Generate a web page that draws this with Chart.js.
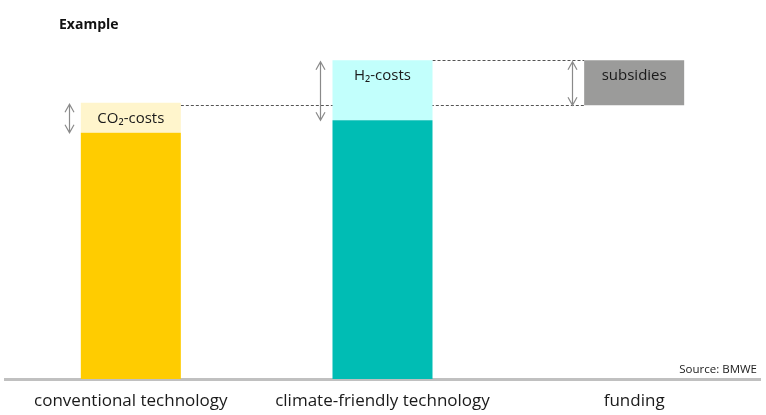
<!DOCTYPE html>
<html>
<head>
<meta charset="utf-8">
<script src="https://cdn.jsdelivr.net/npm/chart.js@4/dist/chart.umd.min.js"></script>
<style>
html,body{margin:0;padding:0;background:#fff;}
#wrap{width:766px;height:415px;position:relative;}
</style>
</head>
<body>
<div id="wrap"><canvas id="c"></canvas></div>
<script>
// Data
const categories = ["conventional technology", "climate-friendly technology", "funding"];
const baseCosts = [98.5, 103.5, null];          // production costs
const extraCosts = [12, 24, null];               // CO2-costs / H2-costs
const extraLabels = ["CO\u2082-costs", "H\u2082-costs", "subsidies"];
const fundingRange = [null, null, [109.5, 127.5]]; // subsidies (floating)
const titleText = "Example";
const sourceText = "Source: BMWE";

const FONT = "'Open Sans', 'Noto Sans', sans-serif";

const baseData = baseCosts.map(v => v == null ? null : [0, v]);
const extraData = extraCosts.map((v, i) => v == null ? null : [baseCosts[i], baseCosts[i] + v]);

const annot = {
  id: 'annot',
  beforeDatasetsDraw(chart) {
    const ctx = chart.ctx, y = chart.scales.y;
    const conv = chart.getDatasetMeta(1).data[0];
    const clim = chart.getDatasetMeta(1).data[1];
    const fund = chart.getDatasetMeta(2).data[2];
    const fLeft = fund.x - fund.width / 2;
    ctx.save();
    ctx.strokeStyle = '#555';
    ctx.lineWidth = 1;
    ctx.setLineDash([3, 2]);
    const yLow = Math.round(y.getPixelForValue(fundingRange[2][0])) + 0.5;
    const yHigh = Math.round(y.getPixelForValue(fundingRange[2][1])) + 0.5;
    ctx.beginPath();
    ctx.moveTo(conv.x + conv.width / 2, yLow);
    ctx.lineTo(fLeft, yLow);
    ctx.moveTo(clim.x + clim.width / 2, yHigh);
    ctx.lineTo(fLeft, yHigh);
    ctx.stroke();
    ctx.restore();
  },
  afterDatasetsDraw(chart) {
    const ctx = chart.ctx, y = chart.scales.y;
    ctx.save();
    const segs = [
      chart.getDatasetMeta(1).data[0],
      chart.getDatasetMeta(1).data[1],
      chart.getDatasetMeta(2).data[2]
    ];
    segs.forEach((el, i) => {
      const top = Math.min(el.y, el.base), bot = Math.max(el.y, el.base);
      ctx.fillStyle = '#1a1a1a';
      ctx.font = '15px ' + FONT;
      ctx.textAlign = 'center';
      ctx.textBaseline = 'middle';
      ctx.fillText(extraLabels[i], el.x, top + 15.5);
      const ax = Math.round(el.x - el.width / 2 - 12) + 0.5;
      const y1 = top + 1.5, y2 = bot;
      ctx.strokeStyle = '#8a8a8a';
      ctx.lineWidth = 1.2;
      ctx.beginPath();
      ctx.moveTo(ax, y1); ctx.lineTo(ax, y2);
      ctx.moveTo(ax - 4.5, y1 + 8); ctx.lineTo(ax, y1); ctx.lineTo(ax + 4.5, y1 + 8);
      ctx.moveTo(ax - 4.5, y2 - 8); ctx.lineTo(ax, y2); ctx.lineTo(ax + 4.5, y2 - 8);
      ctx.stroke();
    });
    ctx.fillStyle = '#111';
    ctx.font = 'bold 14px ' + FONT;
    ctx.textAlign = 'left';
    ctx.textBaseline = 'middle';
    ctx.fillText(titleText, 59, 25);
    ctx.font = '11.5px ' + FONT;
    ctx.textAlign = 'right';
    ctx.fillStyle = '#222';
    ctx.fillText(sourceText, 757, 370);
    ctx.restore();
  }
};

new Chart(document.getElementById('c'), {
  type: 'bar',
  data: {
    labels: categories,
    datasets: [
      { label: 'costs', data: baseData, backgroundColor: ['#FFCC00', '#00BDB4', '#FFCC00'], grouped: false },
      { label: 'extra', data: extraData, backgroundColor: ['#FFF5CC', '#C2FFFC', '#C2FFFC'], grouped: false },
      { label: 'subsidies', data: fundingRange, backgroundColor: '#9B9B9A', grouped: false }
    ]
  },
  options: {
    responsive: true,
    maintainAspectRatio: false,
    animation: false,
    devicePixelRatio: 1,
    layout: { padding: { top: 29, left: 5, right: 6, bottom: 0 } },
    datasets: { bar: { categoryPercentage: 1, barPercentage: 0.3974, borderWidth: 0 } },
    plugins: { legend: { display: false }, tooltip: { enabled: false }, title: { display: false } },
    scales: {
      x: {
        z: 1,
        grid: { display: false, drawTicks: false },
        border: { display: true, color: '#c0c0c0', width: 3 },
        ticks: { color: '#1a1a1a', font: { family: FONT, size: 17 }, padding: 12, maxRotation: 0, autoSkip: false },
        afterFit: (s) => { s.height = 36; }
      },
      y: {
        display: false,
        min: 0,
        max: 140
      }
    }
  },
  plugins: [annot]
});
</script>
</body>
</html>
